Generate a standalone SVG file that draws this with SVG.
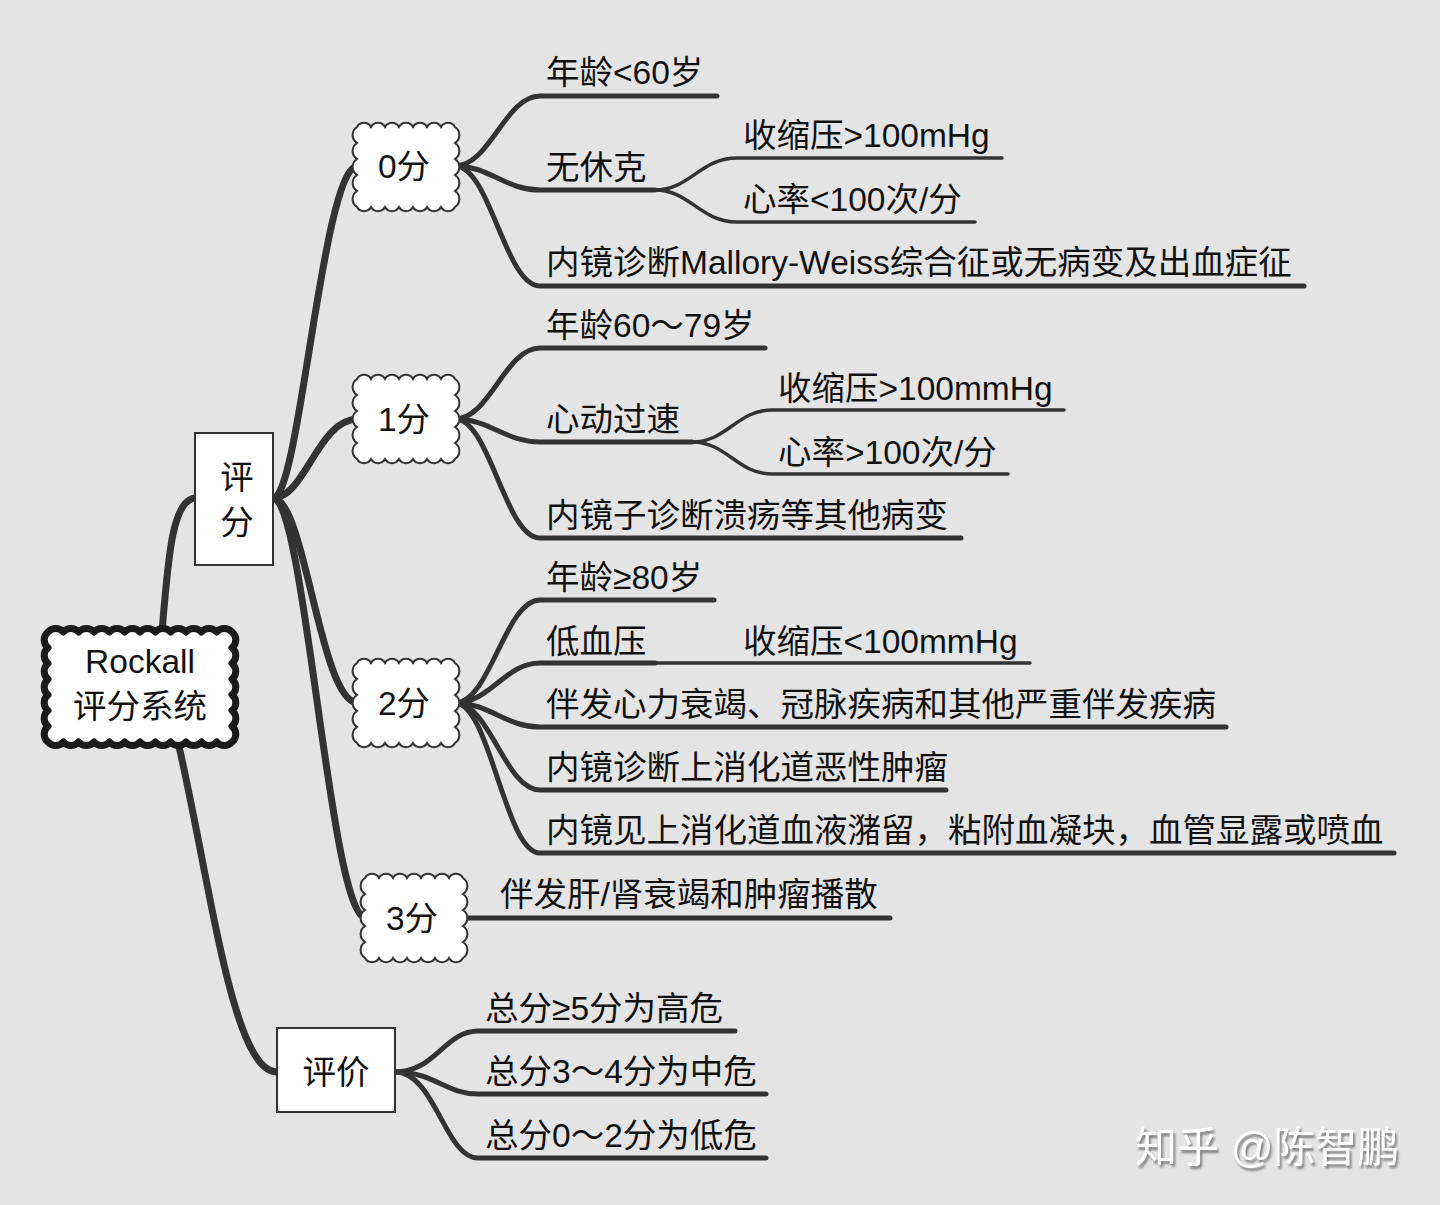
<svg xmlns="http://www.w3.org/2000/svg" xmlns:xlink="http://www.w3.org/1999/xlink" width="1440" height="1205" viewBox="0 0 1440 1205">
<defs>
<style>
.t{font-family:"Liberation Sans","Noto Sans CJK SC",sans-serif;font-size:33.5px;fill:#111}
.c{text-anchor:middle}
.l1{fill:none;stroke:#333;stroke-width:7;stroke-linecap:round}
.l2{fill:none;stroke:#333;stroke-width:5;stroke-linecap:round}
.l3{fill:none;stroke:#333;stroke-width:3.5;stroke-linecap:round}
.cloud{fill:#fff;stroke:#333;stroke-width:2}
.box{fill:#fff;stroke:#333;stroke-width:2}
.wm{font-family:"Liberation Sans","Noto Sans CJK SC",sans-serif;font-size:42px;fill:#fff}
</style>
<path id="cl" d="M0,0 a8,8 0 0 1 14,0 a8,8 0 0 1 14,0 a8,8 0 0 1 14,0 a8,8 0 0 1 14,0 a8,8 0 0 1 14,0 a8,8 0 0 1 14,0 a8,8 0 0 1 14,0 a9.5,9.5 0 0 1 0,16 a9.5,9.5 0 0 1 0,16 a9.5,9.5 0 0 1 0,16 a9.5,9.5 0 0 1 0,16 a9.5,9.5 0 0 1 0,16 a8,8 0 0 1 -14,0 a8,8 0 0 1 -14,0 a8,8 0 0 1 -14,0 a8,8 0 0 1 -14,0 a8,8 0 0 1 -14,0 a8,8 0 0 1 -14,0 a8,8 0 0 1 -14,0 a9.5,9.5 0 0 1 0,-16 a9.5,9.5 0 0 1 0,-16 a9.5,9.5 0 0 1 0,-16 a9.5,9.5 0 0 1 0,-16 a9.5,9.5 0 0 1 0,-16 Z"/>
<filter id="sh" x="-10%" y="-20%" width="130%" height="150%">
<feDropShadow dx="2" dy="3" stdDeviation="1" flood-color="#777" flood-opacity="0.9"/>
</filter>
</defs>
<rect width="1440" height="1205" fill="#e4e4e4"/>

<g id="connectors">
<path class="l1" d="M162,632 C168,560 172,498 196,498"/>
<path class="l1" d="M178,742 C210,880 232,1072 277,1072"/>
<path class="l1" d="M273,498 C300,498 322,166 358,166"/>
<path class="l1" d="M273,498 C305,498 318,419 358,419"/>
<path class="l1" d="M273,498 C305,498 320,703 358,703"/>
<path class="l1" d="M273,498 C305,498 330,918 366,918"/>
<path class="l2" d="M455,166 C490,166 505,96 540,96 H717"/>
<path class="l2" d="M455,166 C490,166 505,190 540,190 H655"/>
<path class="l2" d="M455,166 C490,166 505,286 540,286 H1304"/>
<path class="l3" d="M655,190 C690,190 700,158 737,158 H1002"/>
<path class="l3" d="M655,190 C690,190 700,222 737,222 H975"/>
<path class="l2" d="M455,419 C490,419 505,348 540,348 H765"/>
<path class="l2" d="M455,419 C490,419 505,442 540,442 H692"/>
<path class="l2" d="M455,419 C490,419 505,538 540,538 H961"/>
<path class="l3" d="M692,442 C727,442 737,410 772,410 H1064"/>
<path class="l3" d="M692,442 C727,442 737,474 772,474 H1008"/>
<path class="l2" d="M455,703 C490,703 505,600 540,600 H714"/>
<path class="l2" d="M455,703 C490,703 505,663 540,663 H655"/>
<path class="l3" d="M655,663 H1030"/>
<path class="l2" d="M455,703 C490,703 505,727 540,727 H1226"/>
<path class="l2" d="M455,703 C490,703 505,790 540,790 H946"/>
<path class="l2" d="M455,703 C490,703 505,853 540,853 H1394"/>
<path class="l2" d="M463,918 H890"/>
<path class="l2" d="M395,1072 C435,1072 445,1031 478,1031 H735"/>
<path class="l2" d="M395,1072 C435,1072 445,1094 478,1094 H766"/>
<path class="l2" d="M395,1072 C435,1072 445,1158 478,1158 H766"/>
</g>

<g id="root">
<path transform="translate(48,632)" d="M0,0 a10,10 0 0 1 15.333,0 a10,10 0 0 1 15.333,0 a10,10 0 0 1 15.333,0 a10,10 0 0 1 15.333,0 a10,10 0 0 1 15.333,0 a10,10 0 0 1 15.333,0 a10,10 0 0 1 15.333,0 a10,10 0 0 1 15.333,0 a10,10 0 0 1 15.333,0 a10,10 0 0 1 15.333,0 a10,10 0 0 1 15.333,0 a10,10 0 0 1 15.333,0 a10,10 0 0 1 0,15.714 a10,10 0 0 1 0,15.714 a10,10 0 0 1 0,15.714 a10,10 0 0 1 0,15.714 a10,10 0 0 1 0,15.714 a10,10 0 0 1 0,15.714 a10,10 0 0 1 0,15.714 a10,10 0 0 1 -15.333,0 a10,10 0 0 1 -15.333,0 a10,10 0 0 1 -15.333,0 a10,10 0 0 1 -15.333,0 a10,10 0 0 1 -15.333,0 a10,10 0 0 1 -15.333,0 a10,10 0 0 1 -15.333,0 a10,10 0 0 1 -15.333,0 a10,10 0 0 1 -15.333,0 a10,10 0 0 1 -15.333,0 a10,10 0 0 1 -15.333,0 a10,10 0 0 1 -15.333,0 a10,10 0 0 1 0,-15.714 a10,10 0 0 1 0,-15.714 a10,10 0 0 1 0,-15.714 a10,10 0 0 1 0,-15.714 a10,10 0 0 1 0,-15.714 a10,10 0 0 1 0,-15.714 a10,10 0 0 1 0,-15.714 Z" fill="#fff" stroke="#1a1a1a" stroke-width="7" stroke-linejoin="round"/>
<text class="t c" x="140" y="673">Rockall</text>
<text class="t c" x="140" y="718">评分系统</text>
</g>

<g id="pingfen">
<rect class="box" x="195" y="433" width="78" height="132"/>
<text class="t c" x="237" y="489">评</text>
<text class="t c" x="237" y="534">分</text>
</g>

<g id="pingjia">
<rect class="box" x="277" y="1028" width="118" height="84"/>
<text class="t c" x="336" y="1084">评价</text>
</g>

<g id="s0">
<use xlink:href="#cl" class="cloud" transform="translate(357,127)"/>
<text class="t c" x="404" y="178">0分</text>
</g>
<g id="s1">
<use xlink:href="#cl" class="cloud" transform="translate(357,379)"/>
<text class="t c" x="404" y="431">1分</text>
</g>
<g id="s2">
<use xlink:href="#cl" class="cloud" transform="translate(357,663)"/>
<text class="t c" x="404" y="715">2分</text>
</g>
<g id="s3">
<use xlink:href="#cl" class="cloud" transform="translate(365,878)"/>
<text class="t c" x="412" y="930">3分</text>
</g>

<g id="n0a"><text class="t" x="546" y="84">年龄&lt;60岁</text></g>
<g id="n0b"><text class="t" x="546" y="179">无休克</text></g>
<g id="n0b1"><text class="t" x="743" y="147">收缩压&gt;100mHg</text></g>
<g id="n0b2"><text class="t" x="743" y="211">心率&lt;100次/分</text></g>
<g id="n0c"><text class="t" x="546" y="274">内镜诊断Mallory-Weiss综合征或无病变及出血症征</text></g>

<g id="n1a"><text class="t" x="546" y="337">年龄60～79岁</text></g>
<g id="n1b"><text class="t" x="546" y="431">心动过速</text></g>
<g id="n1b1"><text class="t" x="778" y="400">收缩压&gt;100mmHg</text></g>
<g id="n1b2"><text class="t" x="778" y="464">心率&gt;100次/分</text></g>
<g id="n1c"><text class="t" x="546" y="527">内镜子诊断溃疡等其他病变</text></g>

<g id="n2a"><text class="t" x="546" y="589">年龄≥80岁</text></g>
<g id="n2b"><text class="t" x="546" y="653">低血压</text></g>
<g id="n2b1"><text class="t" x="743" y="653">收缩压&lt;100mmHg</text></g>
<g id="n2c"><text class="t" x="546" y="716">伴发心力衰竭、冠脉疾病和其他严重伴发疾病</text></g>
<g id="n2d"><text class="t" x="546" y="779">内镜诊断上消化道恶性肿瘤</text></g>
<g id="n2e"><text class="t" x="546" y="842">内镜见上消化道血液潴留，粘附血凝块，血管显露或喷血</text></g>

<g id="n3a"><text class="t" x="500" y="906">伴发肝/肾衰竭和肿瘤播散</text></g>

<g id="e1"><text class="t" x="485" y="1020">总分≥5分为高危</text></g>
<g id="e2"><text class="t" x="485" y="1083">总分3～4分为中危</text></g>
<g id="e3"><text class="t" x="485" y="1147">总分0～2分为低危</text></g>

<text class="wm" x="1135" y="1162" filter="url(#sh)">知乎 @陈智鹏</text>
</svg>
